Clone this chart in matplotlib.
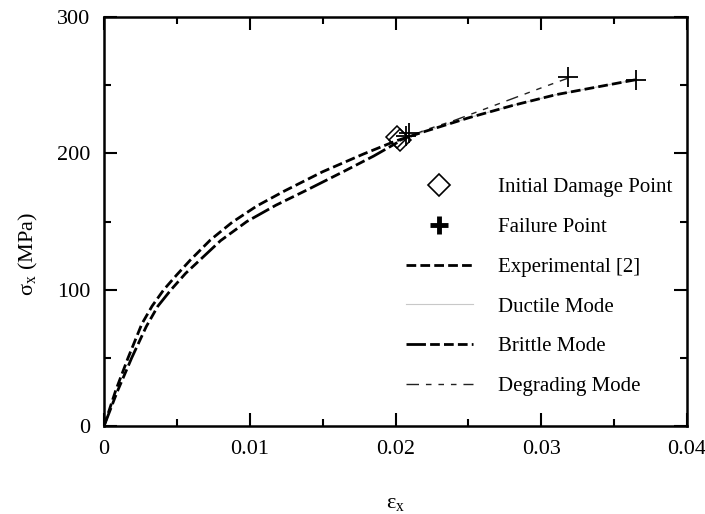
import matplotlib
matplotlib.use("Agg")
import matplotlib.pyplot as plt
from matplotlib.lines import Line2D
from matplotlib.ticker import MultipleLocator

plt.rcParams['font.family'] = ['Liberation Serif', 'DejaVu Serif']
plt.rcParams['mathtext.fontset'] = 'custom'
plt.rcParams['mathtext.rm'] = 'Liberation Serif'
plt.rcParams['mathtext.it'] = 'Liberation Serif'

# experimental curve [2]
exp_strain = [0, 0.0008, 0.00165, 0.0026, 0.0033, 0.0041, 0.005, 0.0059, 0.0073,
              0.0088, 0.0105, 0.0124, 0.015, 0.0178, 0.0200,
              0.022, 0.025, 0.028, 0.031, 0.034, 0.0365]
exp_stress = [0, 26, 50, 75, 88, 100, 111, 121.5, 136.5,
              149.5, 161.5, 172.5, 186.5, 199.5, 209,
              216, 226, 235, 243, 249, 254]

# model curve up to initial damage (shared by all modes)
pre_strain = [0, 0.0009, 0.0019, 0.0029, 0.0037, 0.0046, 0.0056, 0.0066, 0.008,
              0.0098, 0.0118, 0.0139, 0.0165, 0.0185, 0.0203]
pre_stress = [0, 25, 50, 73, 88, 100, 112, 122, 136,
              150, 162, 173, 187, 198, 209]

# after initial damage
ductile_strain = [0.0203, 0.022, 0.025, 0.028, 0.031, 0.034, 0.0365]
ductile_stress = [209, 216, 226, 235, 243, 249, 254]
degrading_strain = [0.0203, 0.022, 0.024, 0.026, 0.028, 0.030, 0.0318]
degrading_stress = [209, 217, 224, 232, 240, 248, 255]

damage_strain = [0.0201, 0.0203]
damage_stress = [212, 210]
failure_strain = [0.0207, 0.0209, 0.0318, 0.0365]
failure_stress = [213, 215, 256, 254]

x_ticks = [0, 0.01, 0.02, 0.03, 0.04]
x_tick_labels = ['0', '0.01', '0.02', '0.03', '0.04']
y_ticks = [0, 100, 200, 300]
y_tick_labels = ['0', '100', '200', '300']

fig = plt.figure(figsize=(7.05, 5.14), dpi=100, facecolor='white')
ax = fig.add_axes([0.1475, 0.171, 0.827, 0.796])

brittle_dash = (7, 1.5, 3.5, 1.5, 3.5, 1.5, 3.5, 1.5)
degr_dash = (9, 5, 4, 5, 4, 5, 4, 5)

ax.plot(ductile_strain, ductile_stress, color='#c8c8c8', lw=0.8)
ax.plot(pre_strain, pre_stress, color='black', lw=2, dashes=brittle_dash)
ax.plot(degrading_strain, degrading_stress, color='#222222', lw=1, dashes=degr_dash)
ax.plot(exp_strain, exp_stress, color='black', lw=2, dashes=(3.5, 1.5))

ax.plot(damage_strain, damage_stress, ls='none', marker='D', ms=11, mfc='none',
        mec='black', mew=1.1)
ax.plot(failure_strain, failure_stress, ls='none', marker='+', ms=15,
        mec='black', mew=1.3)

ax.set_xlim(0, 0.04)
ax.set_ylim(0, 300)
ax.set_xticks(x_ticks)
ax.set_xticklabels(x_tick_labels)
ax.set_yticks(y_ticks)
ax.set_yticklabels(y_tick_labels)
ax.xaxis.set_minor_locator(MultipleLocator(0.005))
ax.yaxis.set_minor_locator(MultipleLocator(50))

ax.tick_params(which='both', direction='in', top=True, right=True, width=1.5,
               labelsize=16, pad=10)
ax.tick_params(which='major', length=9.5)
ax.tick_params(which='minor', length=5)
for sp in ax.spines.values():
    sp.set_linewidth(1.8)

ax.set_xlabel(r'$\mathrm{\varepsilon_x}$', fontsize=16)
ax.set_ylabel(r'$\mathrm{\sigma_x}$ (MPa)', fontsize=16)
ax.xaxis.set_label_coords(0.5, -0.165)
ax.yaxis.set_label_coords(-0.11, 0.42)

handles = [
    Line2D([], [], ls='none', marker='D', ms=11, mfc='none', mec='black', mew=1.2),
    Line2D([], [], ls='none', marker='+', ms=13, mec='black', mew=3.5),
    Line2D([], [], color='black', lw=2, dashes=(3.5, 1.5)),
    Line2D([], [], color='#c8c8c8', lw=0.8),
    Line2D([], [], color='black', lw=2, dashes=brittle_dash),
    Line2D([], [], color='#222222', lw=1, dashes=degr_dash),
]
labels = ['Initial Damage Point', 'Failure Point', 'Experimental [2]',
          'Ductile Mode', 'Brittle Mode', 'Degrading Mode']
ax.legend(handles, labels, loc='upper left', bbox_to_anchor=(0.486, 0.653),
          frameon=False, fontsize=15, handlelength=3.2, handletextpad=1.2,
          labelspacing=0.97)

fig.savefig('out.png', dpi=100, facecolor='white')
